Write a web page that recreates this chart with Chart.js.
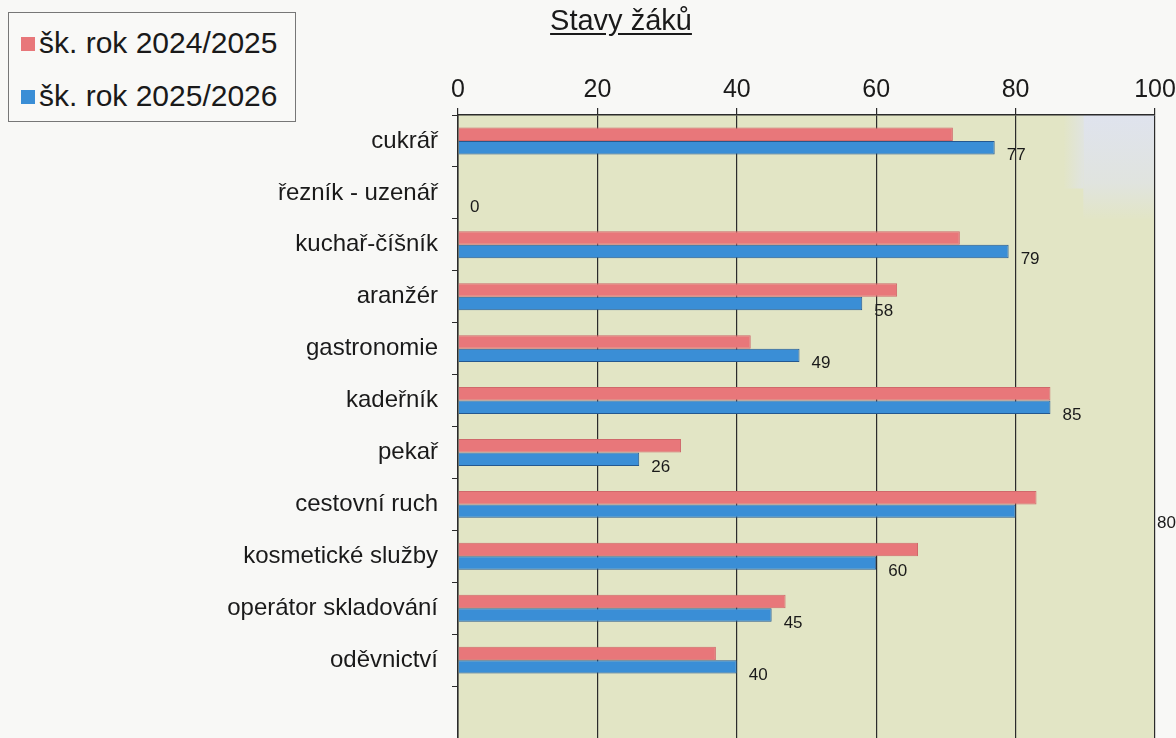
<!DOCTYPE html>
<html>
<head>
<meta charset="utf-8">
<script src="https://cdn.jsdelivr.net/npm/chart.js@4"></script>
<style>
    html, body { margin: 0; padding: 0; background: #f8f8f6; overflow: hidden; }
    #wrap { position: relative; width: 1176px; height: 738px; font-family: "Liberation Sans", Arial, sans-serif; }
    #chart { position: absolute; left: 0; top: 0; }
    #title {
        position: absolute; left: 0; width: 1242px; top: 4px; text-align: center;
        font-size: 29px; color: #1a1a1a; text-decoration: underline; text-underline-offset: 3px;
    }
    #legend {
        position: absolute; left: 8px; top: 12px; width: 286px; height: 108px;
        border: 1px solid #777; background: #f9f9f7;
    }
    .item { position: absolute; left: 12px; font-size: 30px; color: #1a1a1a; line-height: 34px; }
    .item i { display: inline-block; width: 14px; height: 14px; margin-right: 4px; vertical-align: 2px; }
</style>
</head>
<body>
<div id="wrap">
    <canvas id="chart" width="1176" height="738"></canvas>
    <div id="title">Stavy žáků</div>
    <div id="legend">
        <div class="item" style="top:13px"><i style="background:#e8777a"></i>šk. rok 2024/2025</div>
        <div class="item" style="top:66px"><i style="background:#3a8ed6"></i>šk. rok 2025/2026</div>
    </div>
</div>
<script>
const categories = ["cukrář", "řezník - uzenář", "kuchař-číšník", "aranžér", "gastronomie", "kadeřník",
    "pekař", "cestovní ruch", "kosmetické služby", "operátor skladování", "oděvnictví", ""];
const year2024 = [71, null, 72, 63, 42, 85, 32, 83, 66, 47, 37, null];
const year2025 = [77, 0, 79, 58, 49, 85, 26, 80, 60, 45, 40, null];
const xTicks = [0, 20, 40, 60, 80, 100];

// this one label sits out at the right edge of the plot in the original
const edgeLabelIndex = 7;

const plotBackground = {
    id: "plotBackground",
    beforeDraw(chart) {
        const { ctx, chartArea: a } = chart;
        ctx.save();
        ctx.fillStyle = "#e2e5c5";
        ctx.fillRect(a.left, a.top, a.right - a.left, a.bottom - a.top);
        // soft bluish tint in the top right corner of the scan
        const x0 = chart.scales.x.getPixelForValue(88);
        const h = 105;
        const g = ctx.createLinearGradient(0, a.top, 0, a.top + h);
        g.addColorStop(0, "rgba(223,227,240,0.95)");
        g.addColorStop(0.65, "rgba(223,227,240,0.6)");
        g.addColorStop(1, "rgba(223,227,240,0)");
        ctx.fillStyle = g;
        ctx.fillRect(x0 + 12, a.top, a.right - x0 - 12, h);
        const g2 = ctx.createLinearGradient(x0 - 8, 0, x0 + 12, 0);
        g2.addColorStop(0, "rgba(223,227,240,0)");
        g2.addColorStop(1, "rgba(223,227,240,0.6)");
        ctx.fillStyle = g2;
        ctx.fillRect(x0 - 8, a.top, 20, h * 0.7);
        ctx.restore();
    }
};

const valueLabels = {
    id: "valueLabels",
    afterDatasetsDraw(chart) {
        const { ctx, chartArea } = chart;
        const meta = chart.getDatasetMeta(1);
        ctx.save();
        ctx.font = "17px 'Liberation Sans', Arial, sans-serif";
        ctx.fillStyle = "#1a1a1a";
        ctx.textAlign = "left";
        ctx.textBaseline = "middle";
        meta.data.forEach((bar, i) => {
            const v = year2025[i];
            if (v === null) return;
            const x = i === edgeLabelIndex ? chartArea.right + 2 : bar.x + 12;
            const y = i === edgeLabelIndex ? bar.y + 12 : bar.y + 8;
            ctx.fillText(String(v), x, y);
        });
        ctx.restore();
    }
};

new Chart(document.getElementById("chart"), {
    type: "bar",
    data: {
        labels: categories,
        datasets: [{
            label: "šk. rok 2024/2025",
            data: year2024,
            backgroundColor: "#e8777a",
            borderColor: "#d0686b",
            borderWidth: 1,
            barPercentage: 1,
            categoryPercentage: 0.52
        }, {
            label: "šk. rok 2025/2026",
            data: year2025,
            backgroundColor: "#3a8ed6",
            borderColor: "#24588f",
            borderWidth: 1,
            barPercentage: 1,
            categoryPercentage: 0.52
        }]
    },
    options: {
        indexAxis: "y",
        responsive: false,
        animation: false,
        layout: { padding: { left: 0, right: 21, top: 0, bottom: 0 } },
        plugins: {
            legend: { display: false },
            title: { display: false },
            tooltip: { enabled: false }
        },
        scales: {
            x: {
                position: "top",
                min: 0,
                max: 100,
                afterBuildTicks: scale => { scale.ticks = xTicks.map(v => ({ value: v })); },
                afterFit: scale => {
                    scale.height = 115;
                    scale.paddingLeft = 0;
                    scale.paddingRight = 0;
                },
                ticks: {
                    color: "#1a1a1a",
                    padding: 3,
                    font: { family: "'Liberation Sans', Arial, sans-serif", size: 25 }
                },
                grid: { color: "#2b2b2b", lineWidth: 1.2, tickLength: 7 },
                border: { color: "#2b2b2b", width: 1.5 }
            },
            y: {
                afterFit: scale => {
                    scale.width = 458;
                    scale.paddingTop = 0;
                    scale.paddingBottom = 0;
                },
                ticks: {
                    color: "#1a1a1a",
                    padding: 14,
                    font: { family: "'Liberation Sans', Arial, sans-serif", size: 24 }
                },
                grid: { drawOnChartArea: false, color: "#2b2b2b", tickLength: 6, offset: true },
                border: { color: "#2b2b2b", width: 1.5 }
            }
        }
    },
    plugins: [plotBackground, valueLabels]
});
</script>
</body>
</html>
